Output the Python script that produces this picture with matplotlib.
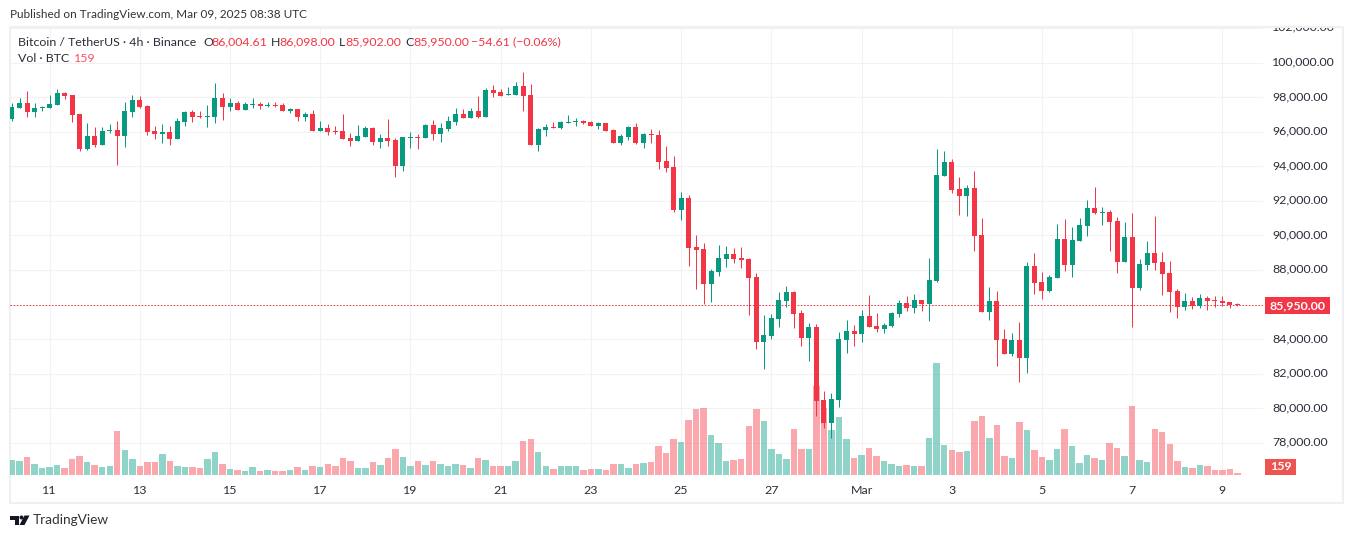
#!/usr/bin/env python3
import matplotlib
matplotlib.use("Agg")
import matplotlib.pyplot as plt
from matplotlib.patches import Rectangle, Polygon, Circle
from matplotlib.transforms import Affine2D, ScaledTranslation

# BTC/USDT 4h candles
opens = [
    96730, 97370, 97660, 97140, 97370, 97370, 97540, 98240, 98120, 97020,
    95000, 95750, 95230, 96040, 96100, 95750, 97140, 97830, 97480, 96040,
    95870, 95980, 95580, 96560, 97140, 96910, 96850, 96850, 97950, 97430,
    97660, 97250, 97540, 97600, 97480, 97540, 97540, 97200, 97310, 96850,
    97020, 96040, 96210, 96040, 96040, 95630, 95460, 95690, 96210, 95400,
    95630, 95520, 94020, 95630, 95690, 95630, 96390, 95870, 96160, 96560,
    97020, 96790, 97200, 96850, 98410, 98290, 98120, 98120, 98640, 98120,
    95230, 96100, 96270, 96210, 96500, 96560, 96620, 96560, 96330, 96500,
    96100, 95350, 95690, 96270, 95350, 95870, 95810, 94310, 93960, 91470,
    92170, 89330, 89220, 87200, 87890, 88640, 88930, 88700, 88640, 87600,
    83840, 84190, 85170, 86210, 86730, 85520, 84070, 84710, 80490, 79160,
    80490, 83960, 84480, 84310, 85350, 84770, 84590, 84770, 85460, 86100,
    85810, 86270, 86040, 87370, 93440, 94250, 92690, 92280, 92750, 90030,
    85580, 86210, 84020, 83150, 83960, 82920, 88240, 87310, 86790, 87540,
    89800, 88290, 89680, 90550, 91590, 91300, 91360, 90840, 88470, 89910,
    86960, 88290, 88990, 88470, 87830, 86790, 85870, 86210, 85920, 86390,
    86270, 86210, 86160, 86004.61,
]
highs = [
    97660, 97950, 98350, 97660, 97480, 98120, 98470, 98290, 98120, 97020,
    96500, 96270, 96270, 96440, 96620, 97720, 98120, 98060, 97540, 96330,
    96440, 96330, 96790, 97200, 97250, 97200, 97540, 98810, 98240, 97950,
    97770, 97720, 97950, 97720, 97720, 97720, 97660, 97370, 97310, 97140,
    97250, 96620, 96440, 96330, 97020, 95920, 96390, 96330, 96270, 95870,
    96730, 95630, 95690, 95980, 95870, 96440, 96680, 96500, 96910, 97370,
    97310, 97370, 98060, 98530, 98700, 98470, 98580, 98870, 99450, 98760,
    96210, 96440, 96560, 96620, 96960, 96790, 96680, 96620, 96560, 96500,
    96160, 95870, 96330, 96500, 95920, 96160, 96100, 95170, 94600, 92510,
    92340, 90030, 89570, 88060, 89450, 89390, 89280, 89330, 88700, 87830,
    85400, 85460, 86730, 87080, 86790, 85690, 84940, 84880, 81010, 80890,
    84420, 85110, 84830, 85690, 86560, 85520, 84940, 85580, 86270, 86500,
    86620, 86270, 88700, 95000, 94880, 94420, 93380, 92920, 93730, 91010,
    87020, 86790, 84590, 84360, 85000, 88470, 88990, 87890, 87720, 90660,
    90950, 90490, 91010, 92050, 92800, 91650, 91470, 91070, 90780, 91300,
    88640, 89680, 91130, 89050, 88530, 86910, 86680, 86440, 86620, 86500,
    86500, 86500, 86160, 86098,
]
lows = [
    96620, 97370, 96850, 96850, 97160, 97370, 97540, 97890, 96560, 94880,
    94940, 95110, 95230, 95920, 94070, 95110, 96850, 97370, 95810, 95580,
    95350, 95230, 95580, 96330, 96560, 96790, 96270, 96500, 96680, 97200,
    97250, 97250, 97370, 97310, 97430, 97430, 97200, 97080, 96620, 96620,
    96040, 96040, 95810, 95870, 95580, 95170, 95460, 95690, 95230, 95060,
    95170, 93380, 93730, 95060, 95000, 95630, 95520, 95400, 96040, 96390,
    96790, 96790, 96790, 96850, 98010, 98060, 98120, 98120, 97200, 95230,
    94880, 95750, 96210, 96160, 96500, 96330, 96440, 96330, 96160, 96040,
    95350, 95230, 95520, 95290, 95060, 95350, 93840, 93670, 91360, 90900,
    88240, 86910, 86040, 86160, 87660, 88180, 88410, 88120, 85400, 83440,
    82280, 84020, 84710, 85870, 84650, 83610, 82740, 79560, 78870, 78290,
    80090, 83210, 83610, 83840, 84710, 84420, 84360, 84710, 85290, 85640,
    85520, 85640, 85060, 87310, 93440, 92460, 91180, 91130, 89100, 85580,
    85110, 82460, 83150, 83030, 81530, 82050, 86620, 86330, 86730, 87540,
    87950, 87600, 89680, 89970, 91240, 90610, 89100, 87830, 88470, 84710,
    86850, 88010, 88010, 86560, 85580, 85230, 85690, 85750, 85810, 85690,
    85870, 85920, 85810, 85902,
]
closes = [
    97430, 97660, 97140, 97370, 97430, 97600, 98240, 98060, 96960, 95000,
    95750, 95230, 96040, 96100, 95750, 97200, 97830, 97430, 95980, 95870,
    95980, 95580, 96620, 97140, 96850, 96850, 96910, 97950, 97430, 97660,
    97250, 97600, 97600, 97480, 97540, 97480, 97200, 97310, 96850, 97020,
    96040, 96210, 95980, 95980, 95580, 95460, 95750, 96210, 95400, 95630,
    95460, 94020, 95690, 95690, 95630, 96390, 95870, 96210, 96620, 97020,
    96790, 97200, 96850, 98410, 98240, 98060, 98180, 98640, 98060, 95230,
    96160, 96270, 96210, 96560, 96560, 96620, 96500, 96330, 96500, 96040,
    95350, 95750, 96270, 95350, 95870, 95810, 94250, 93900, 91470, 92170,
    89280, 89160, 87200, 87950, 88700, 88930, 88640, 88580, 87540, 83840,
    84250, 85230, 86270, 86730, 85460, 84070, 84710, 80430, 79160, 80550,
    84020, 84480, 84310, 85350, 84710, 84590, 84830, 85520, 86100, 85810,
    86270, 86040, 87430, 93500, 94250, 92630, 92280, 92750, 89970, 85580,
    86210, 83960, 83150, 83960, 82920, 88240, 87250, 86790, 87600, 89800,
    88290, 89740, 90610, 91590, 91300, 91360, 90780, 88470, 89910, 86960,
    88350, 88990, 88410, 87770, 86730, 85870, 86210, 85920, 86390, 86210,
    86210, 86100, 85980, 85950,
]
volumes = [
    1200, 1120, 1440, 880, 560, 640, 800, 560, 1280, 1520,
    1040, 800, 640, 720, 3520, 2000, 1280, 720, 1040, 1040,
    1680, 1120, 720, 640, 640, 560, 1280, 1840, 880, 480,
    400, 320, 640, 320, 400, 320, 320, 400, 640, 400,
    720, 640, 880, 720, 1360, 1120, 560, 560, 1040, 800,
    1360, 2080, 1440, 720, 1120, 800, 1120, 880, 720, 880,
    800, 560, 1360, 1200, 720, 720, 720, 1120, 2720, 2880,
    1840, 720, 480, 720, 720, 720, 400, 480, 480, 400,
    880, 880, 560, 880, 960, 1040, 2320, 1760, 2880, 2640,
    4400, 5280, 5360, 3200, 2560, 1120, 1200, 1280, 3920, 5280,
    4320, 2080, 1680, 1280, 3680, 2080, 2080, 7120, 5360, 3600,
    4640, 2880, 1360, 1600, 2160, 1520, 1120, 880, 720, 800,
    720, 720, 2960, 8960, 2400, 2000, 1840, 1920, 4320, 4720,
    2960, 4000, 1520, 1360, 4240, 3600, 2000, 1440, 1200, 2080,
    3680, 2320, 960, 1600, 1360, 1200, 2560, 2160, 1520, 5520,
    1200, 1040, 3680, 3440, 2480, 1120, 640, 560, 800, 720,
    400, 400, 480, 159,
]
price_ticks = list(range(78000, 102001, 2000))
date_ticks = ["11", "13", "15", "17", "19", "21", "23", "25", "27", "Mar", "3", "5", "7", "9"]
date_tick_pos = [5 + 12 * k for k in range(len(date_ticks))]  # first label sits on the 6th candle

UP = "#089981"
DOWN = "#f23645"
VOL_UP = "#22ab94"
VOL_DOWN = "#f7525f"
GRID = "#f2f2f4"
TEXT = "#2a2e39"
W, H = 1352, 538
FONT = "Lato"
FS = 8.9
XLIM = (-0.266, 166.4)
YLIM = (76082, 101977)

plt.rcParams["font.family"] = [FONT, "DejaVu Sans"]
fig = plt.figure(figsize=(W / 100, H / 100), dpi=100, facecolor="white")
# figure-level things are placed in reference pixels
px = Affine2D().scale(1 / W, -1 / H).translate(0, 1) + fig.transFigure

# three layers on the same spot: grid and labels, volume, candles
pane = [10 / W, 1 - 476 / H, 1253 / W, 448 / H]
ax = fig.add_axes(pane, zorder=0)
ax_vol = fig.add_axes(pane, zorder=1)
ax_candle = fig.add_axes(pane, zorder=2)

xs = list(range(len(closes)))
colors = [UP if c >= o else DOWN for o, c in zip(opens, closes)]
vol_colors = [VOL_UP if c >= o else VOL_DOWN for o, c in zip(opens, closes)]

ax_vol.bar(xs, volumes, width=0.86, color=vol_colors, alpha=0.5, linewidth=0)
ax_vol.set_xlim(*XLIM)
ax_vol.set_ylim(-80, 35760)
ax_vol.axis("off")

ax_candle.vlines(xs, lows, highs, colors=colors, linewidth=0.72, zorder=3)
ax_candle.bar(xs, [abs(c - o) for o, c in zip(opens, closes)],
              bottom=[min(o, c) for o, c in zip(opens, closes)],
              width=0.665, color=colors, linewidth=0, zorder=4)
ax_candle.axhline(closes[-1], color=DOWN, linewidth=0.72, linestyle=(0, (1.5, 1.7)), zorder=2)
ax_candle.set_xlim(*XLIM)
ax_candle.set_ylim(*YLIM)
ax_candle.axis("off")

ax.set_xlim(*XLIM)
ax.set_ylim(*YLIM)
ax.set_xticks(date_tick_pos)
ax.set_xticklabels(date_ticks)
ax.set_yticks(price_ticks)
ax.set_yticklabels([f"{p:,.2f}" for p in price_ticks])
ax.yaxis.tick_right()
ax.tick_params(axis="both", length=0, labelsize=FS, labelcolor=TEXT)
ax.tick_params(axis="y", pad=6.5)
ax.tick_params(axis="x", pad=6.5)
ax.grid(True, color=GRID, linewidth=0.8, zorder=0)
for spine in ax.spines.values():
    spine.set_visible(False)

# price labels sit a bit above their grid lines
lift = ScaledTranslation(0, 1.7 / 100, fig.dpi_scale_trans)
price_labels = ax.get_yticklabels()
for lab in price_labels:
    lab.set_transform(lab.get_transform() + lift)

# the top price label is cut by the frame
top_label = price_labels[-1]
top_label.set_clip_box(Rectangle((0, 28), W, 40, transform=px).get_window_extent())
top_label.set_clip_on(True)

# outer frame
fig.add_artist(Rectangle((10, 27), 1332.5, 476, transform=px, fill=False,
                         edgecolor="#f0f0f2", linewidth=1.5))

def label(x, y, s, color=TEXT, size=FS, **kw):
    fig.text(x, y, s, transform=px, color=color, fontsize=size, va="center", zorder=6, **kw)

label(10, 15, "Published on TradingView.com, Mar 09, 2025 08:38 UTC", color="#333333", size=8.5)

label(18, 42, "Bitcoin / TetherUS · 4h · Binance")
for x, dx, key, val in [(203, 8, "O", "86,004.61"), (271, 8, "H", "86,098.00"),
                        (339, 6, "L", "85,902.00"), (405, 8, "C", "85,950.00")]:
    label(x, 42, key)
    label(x + dx, 42, val, color=DOWN)
label(471, 42, "−54.61 (−0.06%)", color=DOWN)
label(18, 59, "Vol · BTC")
label(74, 59, "159", color="#f7525f")

# last price and last volume tags, these cover the price labels behind them
fig.add_artist(Rectangle((1265, 297), 65, 17, transform=px, facecolor=DOWN, edgecolor="none", zorder=5))
label(1297.5, 305.5, "85,950.00", color="white", weight="bold", ha="center")
fig.add_artist(Rectangle((1265, 459), 31, 16, transform=px, facecolor="#ef5350", edgecolor="none", zorder=5))
label(1280.5, 467, "159", color="white", weight="bold", ha="center")

# TradingView mark and name
fig.add_artist(Polygon([(10, 515.5), (19, 515.5), (19, 525), (14.5, 525), (14.5, 519.5), (10, 519.5)],
                       transform=px, facecolor="#131722", edgecolor="none"))
fig.add_artist(Circle((21.5, 517.5), 2, transform=px, facecolor="#131722", edgecolor="none"))
fig.add_artist(Polygon([(24.5, 515.5), (29.5, 515.5), (24.5, 525), (19.5, 525)],
                       transform=px, facecolor="#131722", edgecolor="none"))
label(33, 520, "TradingView", color="#333333", size=9.8)

fig.savefig("out.png", dpi=100)
